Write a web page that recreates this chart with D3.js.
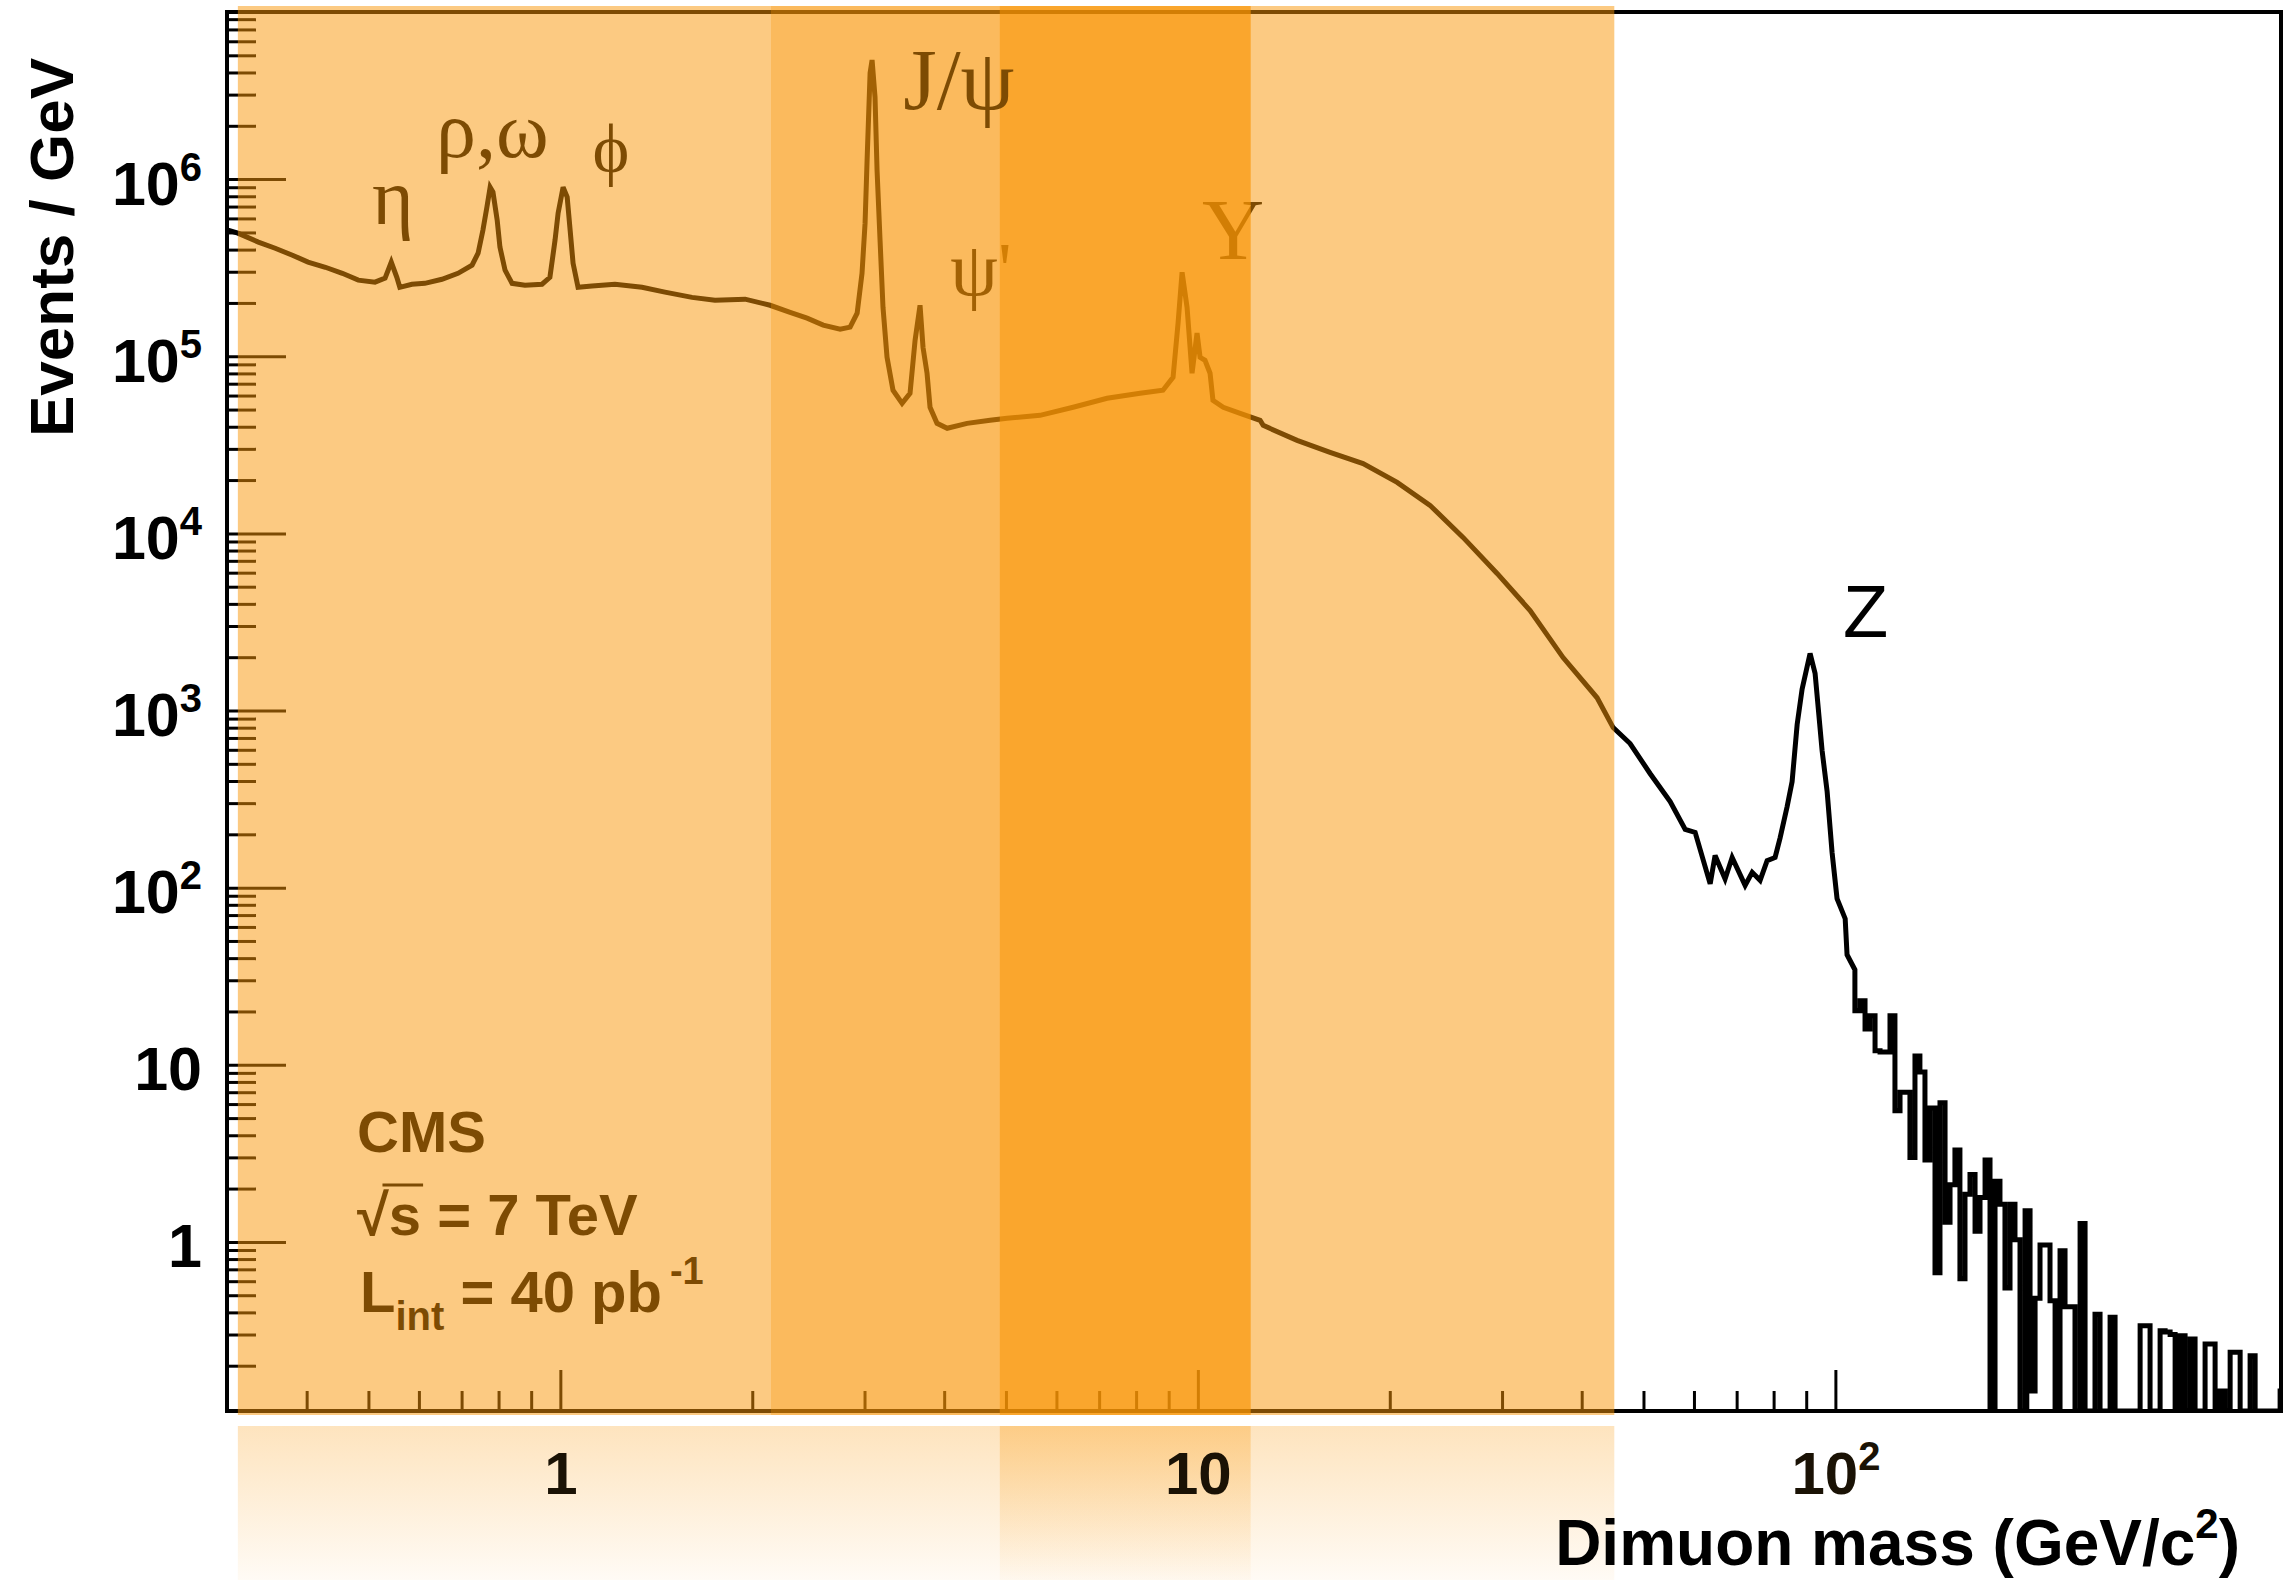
<!DOCTYPE html>
<html>
<head>
<meta charset="utf-8">
<title>CMS dimuon mass spectrum</title>
<script src="https://cdn.jsdelivr.net/npm/d3@7/dist/d3.min.js"></script>
<style>
  html, body { margin: 0; padding: 0; background: #ffffff; }
  svg { display: block; }
</style>
</head>
<body>
<svg id="chart" width="2285" height="1580"></svg>
<script>
// ---------------- data ----------------
// Smooth part of the spectrum: dimuon mass (GeV) and events / GeV
const smoothMass = [
  0.301, 0.312, 0.336, 0.357, 0.380, 0.402, 0.428, 0.455, 0.482, 0.512,
  0.531, 0.543, 0.554, 0.560, 0.585, 0.613, 0.652, 0.691, 0.727, 0.743,
  0.756, 0.767, 0.776, 0.784, 0.796, 0.804, 0.819, 0.840, 0.880, 0.936,
  0.963, 0.981, 0.992, 1.010, 1.025, 1.036, 1.047, 1.066, 1.121, 1.218,
  1.343, 1.459, 1.609, 1.748, 1.949,
  2.133, 2.293, 2.438, 2.584, 2.747, 2.848, 2.921, 2.973, 3.006, 3.028,
  3.061, 3.083, 3.116, 3.139, 3.173, 3.207, 3.254, 3.325, 3.436, 3.536,
  3.601, 3.666, 3.706, 3.760, 3.801, 3.898, 4.044, 4.345, 4.721, 5.019,
  5.655, 6.373, 7.204, 8.117, 8.816, 9.143, 9.310, 9.446, 9.617, 9.792,
  9.970, 10.08, 10.26, 10.45, 10.56, 10.96, 11.65, 12.52,
  12.66, 14.31, 16.12, 18.16, 20.54, 23.13, 26.06, 29.47, 33.20, 37.40,
  42.29, 44.81, 47.64, 51.20,
  55.06, 58.13, 60.26, 63.62, 64.76, 67.14, 68.87, 72.18, 74.04, 76.19,
  78.15, 80.43, 81.90, 84.01, 85.53, 87.10, 88.67, 91.26, 92.93, 95.31,
  97.06, 98.81, 100.6, 103.6, 104.3, 107.3
];
const smoothEvents = [
  5.15e5, 4.95e5, 4.41e5, 4.07e5, 3.72e5, 3.40e5, 3.18e5, 2.94e5, 2.69e5, 2.62e5,
  2.76e5, 3.40e5, 2.79e5, 2.45e5, 2.55e5, 2.58e5, 2.72e5, 2.94e5, 3.27e5, 3.82e5,
  5.15e5, 6.95e5, 9.0e5, 8.45e5, 5.87e5, 4.13e5, 3.06e5, 2.58e5, 2.52e5, 2.55e5,
  2.79e5, 4.52e5, 6.43e5, 9.0e5, 7.91e5, 5.15e5, 3.35e5, 2.45e5, 2.49e5, 2.55e5,
  2.45e5, 2.30e5, 2.15e5, 2.07e5, 2.10e5,
  1.94e5, 1.77e5, 1.64e5, 1.50e5, 1.42e5, 1.46e5, 1.75e5, 2.94e5, 5.64e5, 1.28e6,
  3.97e6, 4.70e6, 2.90e6, 1.12e6, 4.52e5, 1.89e5, 9.87e4, 6.43e4, 5.42e4, 6.18e4,
  1.23e5, 1.94e5, 1.12e5, 8.02e4, 5.15e4, 4.18e4, 3.92e4, 4.18e4, 4.35e4, 4.47e4,
  4.64e4, 5.15e4, 5.79e4, 6.18e4, 6.43e4, 7.60e4, 1.54e5, 2.98e5, 1.89e5, 8.02e4,
  1.35e5, 9.87e4, 9.49e4, 8.02e4, 5.64e4, 5.15e4, 4.76e4, 4.35e4,
  4.07e4, 3.35e4, 2.87e4, 2.48e4, 1.94e4, 1.44e4, 9.49e3, 5.94e3, 3.67e3, 1.99e3,
  1.18e3, 801, 651, 441,
  306, 213, 205, 105, 152, 112, 148, 103, 122, 110,
  142, 148, 191, 287, 397, 834, 1320, 2100, 1620, 594,
  349, 158, 86.7, 66.8, 41.8, 34.4
];
// High-mass tail drawn as histogram bins: lower bin edges (GeV) and events / GeV (0 = empty bin)
const tailEdges = [
  107.3, 109.3, 111.3, 113.3, 115.4, 117.5, 119.6, 121.8, 124.0, 126.3,
  128.6, 130.9, 133.3, 135.7, 138.2, 140.7, 143.3, 145.9, 148.6, 151.3,
  154.0, 156.8, 159.7, 162.6, 165.6, 168.6, 171.7, 174.8, 178.0, 181.2,
  184.5, 187.9, 191.3, 194.8, 198.4, 202.0, 205.7, 209.4, 213.2, 217.1,
  221.1, 225.1, 229.2, 233.4, 237.6, 242.0, 246.4, 250.9, 255.4, 260.1,
  264.8, 269.7, 274.6, 279.6, 284.7, 289.9, 295.2, 300.6, 306.0, 311.6,
  317.3, 323.1, 329.0, 335.0, 341.1, 347.3, 353.6, 360.1, 366.6, 373.3,
  380.1, 387.1, 394.1, 401.3, 408.6, 416.1, 423.7, 431.4, 439.2, 447.2,
  455.4, 463.7, 472.1, 480.7, 489.5, 498.4, 507.5
];
const tailEvents = [
  20.2, 23.0, 15.9, 18.9, 12.0, 11.8, 11.8, 18.9, 5.5, 7.0,
  7.0, 3.0, 11.2, 9.1, 2.9, 5.7, 0.67, 6.1, 1.29, 2.1,
  3.3, 0.62, 1.86, 2.4, 1.15, 1.78, 2.9, 0, 2.2, 1.63,
  0.55, 1.63, 1.03, 0, 1.5, 0.144, 0.48, 0.96, 0.96, 0.465,
  0, 0.89, 0.43, 0.43, 0, 1.27, 0, 0, 0.39, 0,
  0, 0.375, 0, 0, 0, 0, 0, 0.336, 0.336, 0,
  0, 0.315, 0.31, 0.30, 0, 0.295, 0, 0.283, 0, 0,
  0.265, 0.265, 0, 0.144, 0, 0.238, 0.238, 0, 0, 0.228,
  0, 0, 0, 0, 0, 0.144
];
// Axis ticks and labels
const yMajorTicks = [1, 10, 100, 1e3, 1e4, 1e5, 1e6];
const yTickLabels = ["1", "10", "10^2", "10^3", "10^4", "10^5", "10^6"];
const xMajorTicks = [1, 10, 100];
const xTickLabels = ["1", "10", "10^2"];
// Shaded mass bands (GeV)
const bandLight = [0.312, 45];
const bandMedium = [2.14, 12.1];
const bandDark = [4.89, 12.1];

// ---------------- layout ----------------
const frame = { left: 227, right: 2281, top: 12, bottom: 1411 };
const x = d3.scaleLog().domain([0.3, 500]).range([frame.left, frame.right]);
const y = d3.scaleLog().domain([0.111, 8.78e6]).range([frame.bottom, frame.top]);
const yMin = y.domain()[0];
const yv = v => y(Math.max(v, yMin));

const SANS = '"Liberation Sans", Arial, Helvetica, sans-serif';
const SERIF = '"Liberation Serif", "Times New Roman", "DejaVu Serif", serif';
const OV = 'rgb(250,150,5)';

const svg = d3.select('#chart');
const defs = svg.append('defs');
defs.append('clipPath').attr('id', 'plotClip').append('rect')
  .attr('x', frame.left).attr('y', frame.top - 2)
  .attr('width', frame.right - frame.left).attr('height', frame.bottom - frame.top + 2);

const gBase = svg.append('g');   // black drawing, later tinted by all overlays
const gMid = svg.append('g');    // medium and dark bands
const gJpsi = svg.append('g');   // text only under the light band
const gLight = svg.append('g');  // light band and label strip
const gTop = svg.append('g');    // labels on top

// ---------------- curve (one continuous path) ----------------
const smooth = smoothMass.map((m, i) => [m, smoothEvents[i]]);
const tail = tailEdges.map((m, i) => [m, tailEvents[Math.min(i, tailEvents.length - 1)]]);
const smoothD = d3.line().x(d => x(d[0])).y(d => yv(d[1]))(smooth);
const tailD = d3.line().curve(d3.curveStepAfter).x(d => x(d[0])).y(d => yv(d[1]))(tail);
gBase.append('path')
  .attr('d', smoothD + 'L' + tailD.slice(1))
  .attr('fill', 'none').attr('stroke', '#000').attr('stroke-width', 5)
  .attr('stroke-linejoin', 'miter').attr('stroke-miterlimit', 3)
  .attr('clip-path', 'url(#plotClip)');

// ---------------- axes / ticks ----------------
function minorTicks(scale) {
  const [a, b] = scale.domain();
  const out = [];
  for (let e = Math.floor(Math.log10(a)); e <= Math.ceil(Math.log10(b)); e++)
    for (let k = 2; k <= 9; k++) {
      const v = k * Math.pow(10, e);
      if (v > a * 1.0001 && v < b * 0.9999) out.push(v);
    }
  return out;
}
function styleTicks(g) {
  g.select('.domain').remove();
  g.selectAll('.tick line').attr('stroke', '#000').attr('stroke-width', 3);
  g.selectAll('.tick text').remove();
}
gBase.append('g').attr('transform', `translate(${frame.left},0)`)
  .call(d3.axisLeft(y).tickValues(minorTicks(y)).tickSize(-29).tickFormat(() => ''))
  .call(styleTicks);
gBase.append('g').attr('transform', `translate(${frame.left},0)`)
  .call(d3.axisLeft(y).tickValues(yMajorTicks).tickSize(-59).tickFormat(() => ''))
  .call(styleTicks);
gBase.append('g').attr('transform', `translate(0,${frame.bottom})`)
  .call(d3.axisBottom(x).tickValues(minorTicks(x)).tickSize(-20).tickFormat(() => ''))
  .call(styleTicks);
gBase.append('g').attr('transform', `translate(0,${frame.bottom})`)
  .call(d3.axisBottom(x).tickValues(xMajorTicks).tickSize(-41).tickFormat(() => ''))
  .call(styleTicks);

gBase.append('rect')
  .attr('x', frame.left).attr('y', frame.top)
  .attr('width', frame.right - frame.left).attr('height', frame.bottom - frame.top)
  .attr('fill', 'none').attr('stroke', '#000').attr('stroke-width', 4);

// ---------------- annotations ----------------
function addText(g, t, m, v, size, anchor, family, weight, fill) {
  return g.append('text').attr('x', x(m)).attr('y', y(v))
    .attr('font-family', family).attr('font-size', size).attr('font-weight', weight || 'normal')
    .attr('text-anchor', anchor).attr('fill', fill || '#000').text(t);
}
const peakLabels = [
  { t: 'η', m: 0.546, v: 5.6e5, size: 80, anchor: 'middle' },
  { t: 'ρ,ω', m: 0.782, v: 1.33e6, size: 80, anchor: 'middle' },
  { t: 'ϕ', m: 1.20, v: 1.095e6, size: 70, anchor: 'middle' },
  { t: "ψ'", m: 4.09, v: 2.21e5, size: 76, anchor: 'start' },
  { t: 'Υ', m: 10.15, v: 3.53e5, size: 86, anchor: 'start' }
];
peakLabels.forEach(p => addText(gBase, p.t, p.m, p.v, p.size, p.anchor, SERIF));
addText(gJpsi, 'J/ψ', 3.45, 2.5e6, 86, 'start', SERIF);

// CMS block
const cmsX = frame.left + 130;
gBase.append('text').attr('x', cmsX).attr('y', 1152)
  .attr('font-family', SANS).attr('font-weight', 'bold').attr('font-size', 58).text('CMS');
const sq = gBase.append('text').attr('x', cmsX).attr('y', 1235)
  .attr('font-family', SANS).attr('font-weight', 'bold').attr('font-size', 58).text('√s = 7 TeV');
try {
  const e0 = sq.node().getExtentOfChar(0), e1 = sq.node().getExtentOfChar(1);
  gBase.append('line')
    .attr('x1', e0.x + e0.width * 0.8).attr('x2', e1.x + e1.width + 2)
    .attr('y1', e0.y + 3).attr('y2', e0.y + 3)
    .attr('stroke', '#000').attr('stroke-width', 3);
} catch (err) {}
const lint = gBase.append('text').attr('x', cmsX + 3).attr('y', 1312)
  .attr('font-family', SANS).attr('font-weight', 'bold').attr('font-size', 58);
lint.append('tspan').text('L');
lint.append('tspan').attr('font-size', 40).attr('dy', 18).text('int');
lint.append('tspan').attr('dy', -18).text(' = 40 pb');
lint.append('tspan').attr('font-size', 38).attr('dy', -28).attr('dx', 8).text('-1');

// ---------------- shaded bands ----------------
const bandTop = 6, bandBottom = 1415;
function band(g, r, op) {
  g.append('rect').attr('x', x(r[0])).attr('width', x(r[1]) - x(r[0]))
    .attr('y', bandTop).attr('height', bandBottom - bandTop)
    .attr('fill', OV).attr('fill-opacity', op);
}
band(gMid, bandMedium, 0.3);
band(gMid, bandDark, 0.55);
band(gLight, bandLight, 0.5);

// label strip below the axis with fading bands
function grad(id, o1, o2) {
  const lg = defs.append('linearGradient').attr('id', id)
    .attr('x1', 0).attr('y1', 0).attr('x2', 0).attr('y2', 1);
  lg.append('stop').attr('offset', '0%').attr('stop-color', OV).attr('stop-opacity', o1);
  lg.append('stop').attr('offset', '100%').attr('stop-color', OV).attr('stop-opacity', o2);
}
grad('gLightStrip', 0.26, 0.04);
grad('gDarkStrip', 0.3, 0.03);
const stripTop = 1426, stripBottom = 1580;
gLight.append('rect').attr('x', x(bandLight[0])).attr('width', x(bandLight[1]) - x(bandLight[0]))
  .attr('y', stripTop).attr('height', stripBottom - stripTop).attr('fill', 'url(#gLightStrip)');
gLight.append('rect').attr('x', x(bandDark[0])).attr('width', x(bandDark[1]) - x(bandDark[0]))
  .attr('y', stripTop).attr('height', stripBottom - stripTop).attr('fill', 'url(#gDarkStrip)');

// ---------------- tick labels & titles ----------------
function setLabel(sel, label, supSize, supShift) {
  sel.text(null);
  const parts = label.split('^');
  sel.append('tspan').text(parts[0]);
  if (parts[1]) sel.append('tspan').attr('font-size', supSize).attr('dy', -supShift).text(parts[1]);
}
const yLab = gTop.append('g').attr('transform', `translate(${frame.left},0)`)
  .call(d3.axisLeft(y).tickValues(yMajorTicks).tickSize(0).tickPadding(25)
    .tickFormat((d, i) => yTickLabels[i]));
yLab.select('.domain').remove();
yLab.attr('font-family', SANS).attr('font-size', 61).attr('font-weight', 'bold');
yLab.selectAll('.tick text').each(function (d, i) {
  const t = d3.select(this).attr('dy', null).attr('y', 25).attr('fill', '#000');
  setLabel(t, yTickLabels[i], 40, 24);
});

const xLab = gTop.append('g').attr('transform', `translate(0,${frame.bottom})`)
  .call(d3.axisBottom(x).tickValues(xMajorTicks).tickSize(0).tickPadding(0)
    .tickFormat((d, i) => xTickLabels[i]));
xLab.select('.domain').remove();
xLab.attr('font-family', SANS).attr('font-size', 60).attr('font-weight', 'bold');
xLab.selectAll('.tick text').each(function (d, i) {
  const t = d3.select(this).attr('dy', null).attr('y', 83).attr('fill', '#1a1205');
  setLabel(t, xTickLabels[i], 40, 24);
});

gTop.append('text')
  .attr('transform', 'translate(73,58) rotate(-90)')
  .attr('text-anchor', 'end')
  .attr('font-family', SANS).attr('font-weight', 'bold').attr('font-size', 62)
  .text('Events / GeV');

const xt = gTop.append('text').attr('x', 2240).attr('y', 1565).attr('text-anchor', 'end')
  .attr('font-family', SANS).attr('font-weight', 'bold').attr('font-size', 64);
xt.append('tspan').text('Dimuon mass (GeV/c');
xt.append('tspan').attr('font-size', 42).attr('dy', -27).text('2');
xt.append('tspan').attr('dy', 27).text(')');

addText(gTop, 'Z', 102.8, 2585, 74, 'start', SANS);
</script>
</body>
</html>
